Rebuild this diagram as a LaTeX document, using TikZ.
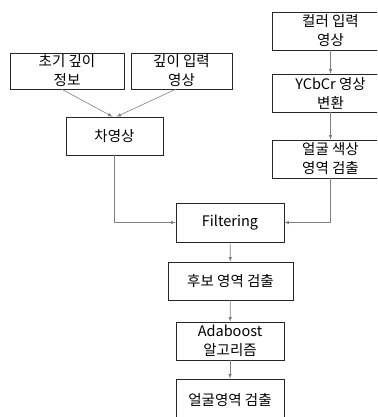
\documentclass[tikz,border=0pt]{standalone}
\usepackage{fontspec}
\setmainfont{Noto Sans CJK KR}
\usetikzlibrary{arrows,shapes}

\begin{document}
\begin{tikzpicture}[x=1pt,y=-1pt,
    box/.style={draw=black!85,line width=0.7pt,align=center,inner sep=0pt,
        font=\fontsize{14.5}{19}\selectfont},
    link/.style={draw=black!50,line width=0.6pt,-latex}]
        \useasboundingbox (0,0) rectangle (377,417);
        \clip (0,0) rectangle (377,417);
        % left column
        \node[box,minimum width=114,minimum height=36] (init) at (67,71) {초기 깊이\\정보};
        \node[box,minimum width=101,minimum height=36] (depthin) at (181.5,71) {깊이 입력\\영상};
        \node[box,minimum width=97,minimum height=38] (diff) at (114.5,136) {차영상};
        % right column
        \node[box,minimum width=117,minimum height=38] (color) at (330.5,31) {컬러 입력\\영상};
        \node[box,minimum width=117,minimum height=38] (ycbcr) at (330.5,93) {YCbCr 영상\\변환};
        \node[box,minimum width=117,minimum height=38] (skin) at (330.5,159) {얼굴 색상\\영역 검출};
        % middle
        \node[box,minimum width=108,minimum height=39] (filter) at (230,222.5) {Filtering};
        \node[box,minimum width=125,minimum height=38] (cand) at (230.5,281) {후보 영역 검출};
        \node[box,minimum width=108,minimum height=38] (ada) at (230,341) {Adaboost\\알고리즘};
        \node[box,minimum width=108,minimum height=42] (face) at (230,400) {얼굴영역 검출};

        \draw[link] ([xshift=-5pt]init.south) -- ([xshift=-2pt]diff.north);
        \draw[link] ([xshift=-6pt]depthin.south) -- ([xshift=2pt]diff.north);
        \draw[link] (color) -- (ycbcr);
        \draw[link] (ycbcr) -- (skin);
        \draw[link] (diff.south) |- (filter.west);
        \draw[link] (skin.south) |- (filter.east);
        \draw[link] (filter) -- (cand);
        \draw[link] (cand) -- (ada);
        \draw[link] (ada) -- (face);
\end{tikzpicture}
\end{document}
